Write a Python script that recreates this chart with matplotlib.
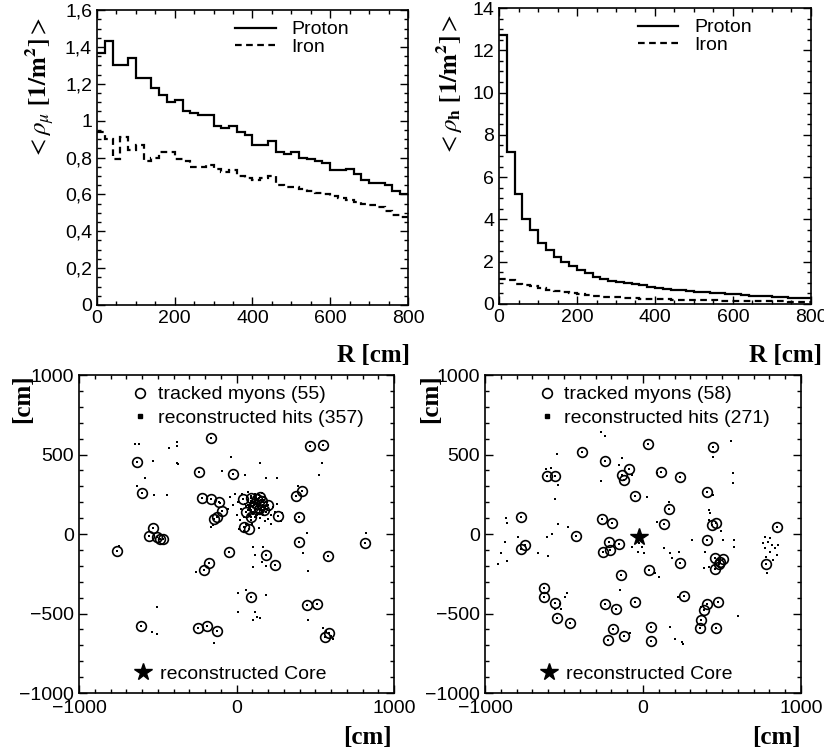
import numpy as np
import matplotlib
matplotlib.use('Agg')
import matplotlib.pyplot as plt
from matplotlib.ticker import MultipleLocator, FuncFormatter
from matplotlib.lines import Line2D

plt.rcParams['font.family'] = ['Liberation Sans', 'DejaVu Sans']
plt.rcParams['mathtext.fontset'] = 'stix'

# --- radial density histograms (20 cm bins, 0..800 cm) ---
r_edges = np.arange(0, 820, 20)

mu_proton = [1.37, 1.43, 1.30, 1.30, 1.34, 1.23, 1.23, 1.18, 1.14, 1.10,
             1.11, 1.05, 1.04, 1.03, 1.03, 0.97, 0.96, 0.97, 0.94, 0.92,
             0.87, 0.87, 0.89, 0.83, 0.82, 0.83, 0.80, 0.79, 0.78, 0.77,
             0.73, 0.73, 0.74, 0.71, 0.68, 0.66, 0.66, 0.65, 0.62, 0.60]
mu_iron = [0.94, 0.90, 0.79, 0.91, 0.84, 0.87, 0.78, 0.80, 0.83, 0.83,
           0.79, 0.78, 0.75, 0.75, 0.76, 0.74, 0.72, 0.73, 0.70, 0.69,
           0.68, 0.69, 0.70, 0.65, 0.64, 0.64, 0.63, 0.62, 0.61, 0.60,
           0.59, 0.58, 0.57, 0.56, 0.55, 0.54, 0.53, 0.51, 0.49, 0.48]

h_proton = [12.7, 7.2, 5.2, 4.0, 3.5, 2.9, 2.55, 2.2, 2.0, 1.8,
            1.6, 1.45, 1.3, 1.2, 1.1, 1.05, 1.0, 0.95, 0.88, 0.82,
            0.75, 0.72, 0.68, 0.65, 0.62, 0.58, 0.55, 0.52, 0.50, 0.48,
            0.45, 0.42, 0.40, 0.38, 0.36, 0.34, 0.32, 0.30, 0.28, 0.26]
h_iron = [1.2, 1.15, 0.95, 0.9, 0.85, 0.75, 0.68, 0.6, 0.55, 0.5,
          0.45, 0.42, 0.38, 0.35, 0.33, 0.31, 0.29, 0.27, 0.25, 0.24,
          0.23, 0.22, 0.21, 0.2, 0.19, 0.18, 0.17, 0.17, 0.16, 0.15,
          0.15, 0.14, 0.14, 0.13, 0.13, 0.12, 0.12, 0.11, 0.11, 0.10]

# --- event displays: tracked muons (cm) ---
muons_left = [(-159, 602), (469, 554), (550, 558), (-634, 451), (-239, 392),
              (-25, 378), (-603, 256), (-222, 229), (-159, 220), (-110, 199),
              (-95, 147), (-127, 109), (-142, 94), (376, 239), (414, 273),
              (397, 105), (395, -48), (814, -59), (581, -139), (-533, 36),
              (-556, -10), (-507, -21), (-486, -29), (-465, -34), (-757, -105),
              (-47, -115), (186, -132), (245, -197), (-173, -180), (-207, -225),
              (95, -395), (448, -449), (512, -437), (-609, -577), (-247, -592),
              (-186, -579), (-123, -611), (560, -646), (588, -625),
              (42, 222), (90, 224), (130, 222), (160, 205), (200, 182),
              (105, 170), (140, 160), (60, 140), (264, 115), (45, 45),
              (80, 32), (120, 195), (175, 150), (95, 110), (150, 235)]

muons_right = [(-385, 516), (32, 565), (442, 546), (-242, 462), (-91, 407),
               (116, 392), (-133, 371), (-122, 340), (236, 359), (-606, 365),
               (-558, 365), (-48, 239), (404, 262), (166, 155), (-775, 105),
               (-259, 92), (-196, 71), (131, 61), (436, 55), (463, 69),
               (846, 42), (-427, -13), (404, -38), (-747, -69), (-775, -94),
               (-217, -52), (-154, -63), (-206, -101), (-253, -111), (457, -153),
               (505, -159), (478, -189), (457, -222), (236, -185), (779, -191),
               (40, -227), (-137, -258), (-627, -342), (-627, -395), (257, -390),
               (-558, -432), (-48, -426), (-242, -443), (-168, -474), (404, -443),
               (387, -478), (474, -430), (366, -541), (362, -594), (-543, -527),
               (-459, -558), (53, -583), (461, -588), (-189, -600), (-120, -640),
               (-221, -667), (53, -672), (490, -175)]

# extra reconstructed hits (besides those at the muon positions)
hits_extra_left = [(-645, 567), (-617, 565), (-429, 543), (-381, 554), (-376, 581),
                   (-529, 462), (-381, 449), (-370, 441), (-36, 483), (-95, 399),
                   (53, 371), (152, 449), (190, 355), (260, 355), (522, 371),
                   (545, 449), (-634, 302), (-581, 350), (-524, 243), (-444, 243),
                   (391, 304), (376, 88), (448, 8), (824, 8), (419, -118),
                   (455, -231), (455, -541), (550, -594), (613, -663), (-258, -237),
                   (11, -374), (59, -353), (186, -384), (11, -489), (116, -489),
                   (129, -520), (106, -541), (148, -531), (-507, -462), (-539, -615),
                   (-503, -630), (-142, -684), (-744, -73), (106, -80), (169, -80),
                   (116, -132), (159, -174), (106, -206), (190, -201), (-106, 193),
                   (-148, 57), (-165, 46), (570, -610), (600, -640),
                   (-40, 230), (-20, 180), (-10, 250), (0, 120), (10, 200),
                   (20, 90), (30, 160), (35, 250), (45, 110), (55, 190),
                   (60, 60), (65, 235), (70, 150), (75, 200), (80, 120),
                   (85, 175), (90, 240), (95, 90), (100, 210), (105, 140),
                   (110, 185), (115, 230), (120, 105), (125, 160), (130, 195),
                   (135, 130), (140, 245), (145, 175), (150, 100), (155, 215),
                   (160, 150), (165, 185), (170, 120), (175, 230), (180, 165),
                   (185, 140), (190, 200), (200, 95), (210, 150), (220, 120),
                   (230, 170), (245, 140), (260, 190), (280, 80), (290, 130),
                   (-55, 160), (15, 30), (50, 20), (100, 60), (140, 40),
                   (180, 80), (220, 60), (70, 265), (120, 250), (160, 255),
                   (60, 175), (90, 150), (110, 200), (130, 175), (150, 190),
                   (170, 170), (95, 195), (115, 150), (135, 210), (155, 165),
                   (75, 215), (105, 125), (125, 140), (145, 135), (165, 200),
                   (185, 175), (85, 165), (140, 185), (120, 215), (100, 175),
                   (160, 140), (130, 120), (110, 230), (175, 215), (195, 160),
                   (70, 185), (150, 150), (90, 205), (125, 190), (145, 225)]

hits_extra_right = [(-263, 644), (-242, 619), (-133, 476), (-154, 434), (-263, 336),
                    (-69, 371), (25, 235), (162, 204), (88, 78), (425, 130),
                    (558, 588), (568, 386), (568, 323), (446, 246), (-547, 504),
                    (-541, 309), (-554, 218), (-617, 407), (-585, 413), (-869, 99),
                    (-863, 67), (-874, -48), (-901, -122), (-916, -189), (-863, -168),
                    (-789, -17), (-663, -122), (-600, -139), (-608, -21), (-575, 0),
                    (-541, 63), (-474, 46), (-27, -59), (-6, -84), (-32, -111),
                    (4, -122), (-11, -38), (99, -273), (78, -248), (-143, -353),
                    (168, -122), (183, -153), (131, -90), (225, -111), (509, -38),
                    (573, -38), (573, -80), (383, -216), (394, -115), (773, -17),
                    (794, -48), (815, -69), (836, -90), (773, -90), (804, -111),
                    (846, -132), (779, -143), (821, -164), (762, -59), (857, -69),
                    (804, -27), (787, -248), (-484, -369), (-491, -395), (-516, -474),
                    (-526, -437), (219, -395), (173, -583), (204, -661), (246, -678),
                    (251, -692), (-80, -621), (604, -516), (366, -457), (446, 518),
                    (442, 487), (88, 382), (309, -38), (-69, -80), (420, 90),
                    (415, 150), (495, 20), (480, -210), (420, -210), (-560, -470)]

core_right = (-23, -21)

fig = plt.figure(figsize=(8.24, 7.56), dpi=100)


def style_axes(ax):
    ax.tick_params(which='both', direction='in', top=True, right=True,
                   labelsize=14, width=1)
    ax.tick_params(which='major', length=6)
    ax.tick_params(which='minor', length=3)
    for s in ax.spines.values():
        s.set_linewidth(1.2)


comma = FuncFormatter(lambda v, p: f'{v:g}'.replace('.', ','))

# top left: muon density
ax1 = fig.add_axes([0.1177, 0.5966, 0.3774, 0.390])
ax1.stairs(mu_proton, r_edges, baseline=None, color='black', lw=1.6, label='Proton')
ax1.stairs(mu_iron, r_edges, baseline=None, color='black', lw=1.6, ls=(0, (3, 2)), label='Iron')
ax1.set_xlim(0, 800)
ax1.set_ylim(0, 1.6)
ax1.xaxis.set_major_locator(MultipleLocator(200))
ax1.xaxis.set_minor_locator(MultipleLocator(50))
ax1.yaxis.set_major_locator(MultipleLocator(0.2))
ax1.yaxis.set_minor_locator(MultipleLocator(0.05))
ax1.yaxis.set_major_formatter(comma)
style_axes(ax1)
ax1.set_ylabel(r'$<\rho_{\mu}\ \mathbf{[1/m^2]}>$', fontsize=18)
ax1.yaxis.set_label_coords(-0.13, 0.735)
ax1.legend(loc='upper left', bbox_to_anchor=(0.41, 1.0), frameon=False, fontsize=14,
           handlelength=2.1, labelspacing=0.0, borderaxespad=0.15)

# top right: hadron density
ax2 = fig.add_axes([0.6056, 0.5979, 0.3786, 0.3915])
ax2.stairs(h_proton, r_edges, baseline=None, color='black', lw=1.6, label='Proton')
ax2.stairs(h_iron, r_edges, baseline=None, color='black', lw=1.6, ls=(0, (3, 2)), label='Iron')
ax2.set_xlim(0, 800)
ax2.set_ylim(0, 14)
ax2.xaxis.set_major_locator(MultipleLocator(200))
ax2.xaxis.set_minor_locator(MultipleLocator(50))
ax2.yaxis.set_major_locator(MultipleLocator(2))
ax2.yaxis.set_minor_locator(MultipleLocator(0.5))
style_axes(ax2)
ax2.set_ylabel(r'$<\rho_{\mathbf{h}}\ \mathbf{[1/m^2]}>$', fontsize=18)
ax2.yaxis.set_label_coords(-0.11, 0.74)
ax2.legend(loc='upper left', bbox_to_anchor=(0.41, 1.0), frameon=False, fontsize=14,
           handlelength=2.1, labelspacing=0.0, borderaxespad=0.15)

for x in (0.497, 0.997):
    fig.text(x, 0.530, 'R [cm]', ha='right', va='center', fontsize=18,
             family='Liberation Serif', weight='bold')


def event_panel(rect, muons, hits_extra, n_mu, n_hits, core=None):
    ax = fig.add_axes(rect)
    mx, my = zip(*muons)
    ex, ey = zip(*hits_extra)
    hx = list(mx) + list(ex)
    hy = list(my) + list(ey)
    ax.plot(hx, hy, 's', ms=1.5, mfc='black', mec='black', mew=0, ls='none')
    ax.plot(mx, my, 'o', ms=7, mfc='none', mec='black', mew=1.2, ls='none')
    if core is not None:
        ax.plot([core[0]], [core[1]], '*', ms=13, color='black', ls='none')
    ax.set_xlim(-1000, 1000)
    ax.set_ylim(-1000, 1000)
    ax.xaxis.set_major_locator(MultipleLocator(1000))
    ax.xaxis.set_minor_locator(MultipleLocator(100))
    ax.yaxis.set_major_locator(MultipleLocator(500))
    ax.yaxis.set_minor_locator(MultipleLocator(100))
    style_axes(ax)
    ax.tick_params(axis='x', pad=5)
    h_mu = Line2D([], [], marker='o', ms=7, mfc='none', mec='black', mew=1.2, ls='none')
    h_hit = Line2D([], [], marker='s', ms=2.2, mfc='black', mec='black', ls='none')
    leg = ax.legend([h_mu, h_hit],
                    [f'tracked myons ({n_mu})', f'reconstructed hits ({n_hits})'],
                    loc='upper left', bbox_to_anchor=(0.13, 1.0), frameon=False,
                    fontsize=14, handlelength=1.0, handletextpad=0.4,
                    labelspacing=0.3, borderaxespad=0.15)
    ax.add_artist(leg)
    h_core = Line2D([], [], marker='*', ms=13, color='black', ls='none')
    ax.legend([h_core], ['reconstructed Core'], loc='lower left',
              bbox_to_anchor=(0.14, 0.0), frameon=False, fontsize=14,
              handlelength=1.0, handletextpad=0.4, borderaxespad=0.1)
    return ax


ax3 = event_panel([0.0959, 0.0833, 0.3823, 0.4206], muons_left, hits_extra_left, 55, 357)
ax4 = event_panel([0.5886, 0.0833, 0.3835, 0.4206], muons_right, hits_extra_right, 58, 271,
                  core=core_right)

for x in (0.028, 0.522):
    fig.text(x, 0.472, '[cm]', rotation=90, ha='center', va='center', fontsize=18,
             family='Liberation Serif', weight='bold')
for x in (0.476, 0.972):
    fig.text(x, 0.025, '[cm]', ha='right', va='center', fontsize=18,
             family='Liberation Serif', weight='bold')

fig.savefig('out.png', dpi=100)
